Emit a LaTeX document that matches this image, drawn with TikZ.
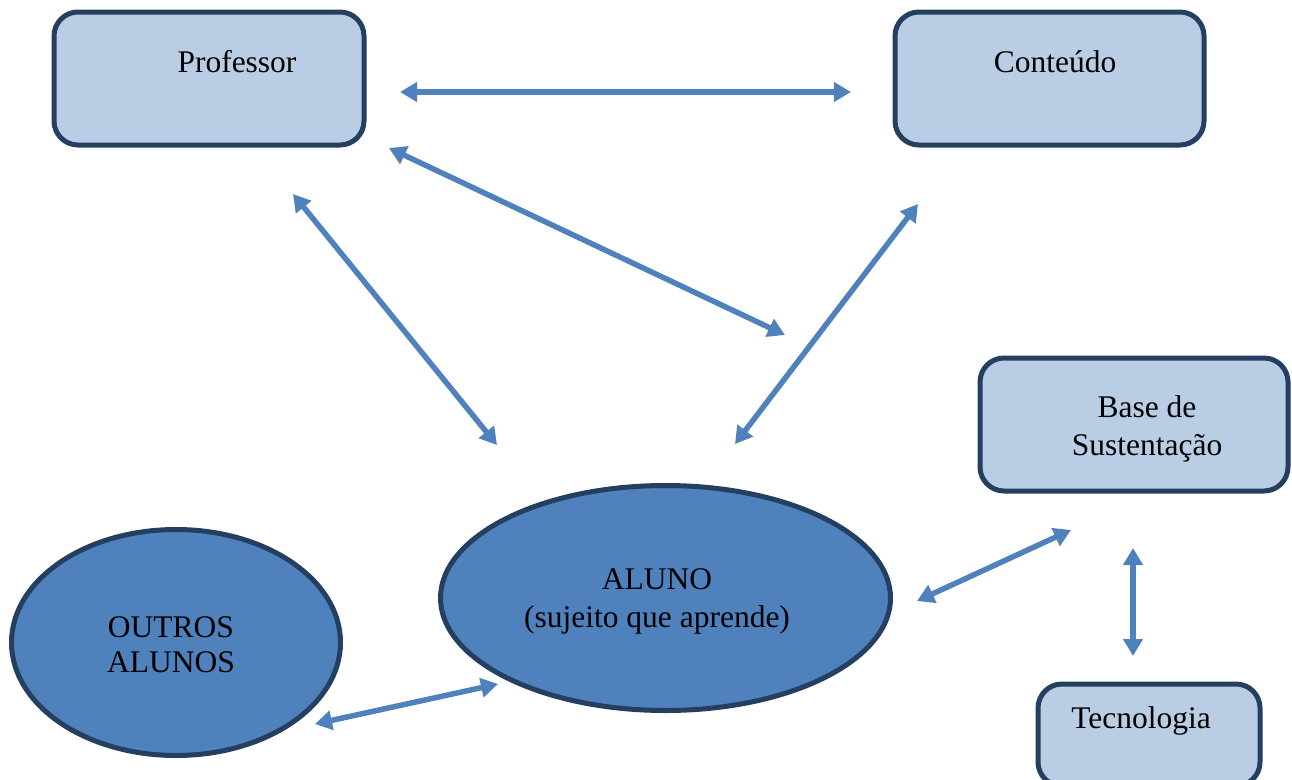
\documentclass[tikz,border=0pt]{standalone}
\usepackage{fontspec}
\setmainfont{Liberation Serif}
\usetikzlibrary{arrows.meta,shapes.geometric}
\definecolor{boxfill}{HTML}{B9CDE5}
\definecolor{edge}{HTML}{243F60}
\definecolor{accent}{HTML}{4F81BD}
\begin{document}
\begin{tikzpicture}[x=1pt,y=-1pt,
  roundbox/.style={draw=edge,fill=boxfill,line width=5pt,rounded corners=24pt,
    inner sep=0pt},
  blob/.style={ellipse,draw=edge,fill=accent,line width=5pt,inner sep=0pt},
  lbl/.style={font=\fontsize{31.5}{38}\selectfont,align=center,inner sep=0pt,text=black},
  link/.style={draw=accent,line width=5.5pt,
    {Triangle[length=17pt,width=19pt]}-{Triangle[length=17pt,width=19pt]}}]
\useasboundingbox (0,0) rectangle (1292,779);
\clip (0,0) rectangle (1292,779);

% boxes
\draw[roundbox] (54,12) rectangle (364,145) node[pos=0.5] (prof) {};
\draw[roundbox] (895,12) rectangle (1204,145) node[pos=0.5] (cont) {};
\draw[roundbox] (980,358) rectangle (1288,491) node[pos=0.5] (base) {};
\draw[roundbox] (1038,684) rectangle (1260,786) node[pos=0.5] (tec) {};

% ellipses
\node[blob,minimum width=450pt,minimum height=225pt] (aluno) at (665.5,598) {};
\node[blob,minimum width=329pt,minimum height=226pt] (outros) at (176,642.5) {};

% labels
\node[lbl] (tprof) at (237,62) {Professor};
\node[lbl] (tcont) at (1055,62) {Conteúdo};
\node[lbl] (tbase) at (1147,429) {Base de\\Sustentação};
\node[lbl] (ttec) at (1141,721) {Tecnologia};
\node[lbl] (talu) at (657,601) {ALUNO\\(sujeito que aprende)};
\node[lbl] (tout) at (171,645) {OUTROS\\[-3pt]ALUNOS};

% connector end points
\coordinate (a1) at (400,92);   \coordinate (b1) at (851,92);
\coordinate (a2) at (389,148);  \coordinate (b2) at (785,335);
\coordinate (a3) at (293,194);  \coordinate (b3) at (497,445);
\coordinate (a4) at (918,204);  \coordinate (b4) at (735,444);
\coordinate (a5) at (917,601);  \coordinate (b5) at (1071,530);
\coordinate (a6) at (1133,548); \coordinate (b6) at (1133,656);
\coordinate (a7) at (315,724);  \coordinate (b7) at (498,684);

\draw[link] (a1) -- (b1);
\draw[link] (a2) -- (b2);
\draw[link] (a3) -- (b3);
\draw[link] (a4) -- (b4);
\draw[link] (a5) -- (b5);
\draw[link] (a6) -- (b6);
\draw[link] (a7) -- (b7);
\end{tikzpicture}
\end{document}
